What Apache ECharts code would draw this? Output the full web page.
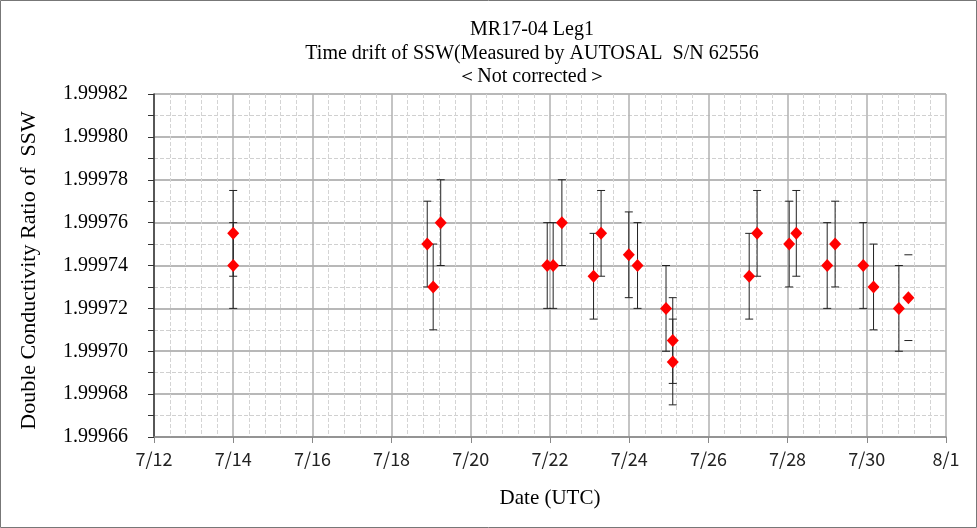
<!DOCTYPE html>
<html>
<head>
<meta charset="utf-8">
<script src="https://cdn.jsdelivr.net/npm/echarts@6/dist/echarts.min.js"></script>
<style>html,body{margin:0;padding:0;background:#fff}#c{width:977px;height:528px}</style>
</head>
<body>
<div id="c"></div>
<script>
// ---- data (day of July, UTC) ----
const days   = [14.0, 14.0, 18.9, 19.05, 19.24, 21.93, 22.08, 22.3, 23.1, 23.29, 23.99, 24.21, 24.93, 25.1, 25.1, 27.03, 27.23, 28.04, 28.22, 29.0, 29.2, 29.91, 30.17, 30.81];
const ratios = [1.999755, 1.99974, 1.99975, 1.99973, 1.99976, 1.99974, 1.99974, 1.99976, 1.999735, 1.999755, 1.999745, 1.99974, 1.99972, 1.999705, 1.999695, 1.999735, 1.999755, 1.99975, 1.999755, 1.99974, 1.99975, 1.99974, 1.99973, 1.99972];
const errors = [0.00002, 0.00002, 0.00002, 0.00002, 0.00002, 0.00002, 0.00002, 0.00002, 0.00002, 0.00002, 0.00002, 0.00002, 0.00002, 0.00002, 0.00002, 0.00002, 0.00002, 0.00002, 0.00002, 0.00002, 0.00002, 0.00002, 0.00002, 0.00002];
// point whose error bar shows only its caps
const capOnlyDays   = [31.05];
const capOnlyRatios = [1.999725];
const capOnlyErrors = [0.00002];
const referenceValue = 1.99976;
const xTickLabels = ['7/12','7/14','7/16','7/18','7/20','7/22','7/24','7/26','7/28','7/30','8/1'];
const titleLines = ['MR17-04 Leg1', 'Time drift of SSW(Measured by AUTOSAL  S/N 62556', '＜Not corrected＞'];

const serif = '"Liberation Serif", "Times New Roman", serif';

const barData = days.map((d, i) => [d, ratios[i], errors[i], 1])
  .concat(capOnlyDays.map((d, i) => [d, capOnlyRatios[i], capOnlyErrors[i], 0]));
const pointData = days.map((d, i) => [d, ratios[i]])
  .concat(capOnlyDays.map((d, i) => [d, capOnlyRatios[i]]));

const chart = echarts.init(document.getElementById('c'));
chart.setOption({
  animation: false,
  backgroundColor: '#fff',
  title: {
    text: titleLines.join('\n'),
    left: 527, top: 13, textAlign: 'center',
    textStyle: { fontFamily: serif, fontSize: 20, fontWeight: 'normal', color: '#000', lineHeight: 23.5 }
  },
  graphic: [{
    type: 'rect', shape: { x: 0.5, y: 0.5, width: 976, height: 527 },
    style: { fill: 'none', stroke: '#777', lineWidth: 1 }, silent: true, z: -10
  }],
  grid: { left: 154, right: 31, top: 94, bottom: 91, containLabel: false },
  xAxis: {
    type: 'value', min: 12, max: 32, interval: 2,
    name: 'Date (UTC)', nameLocation: 'middle', nameGap: 51,
    nameTextStyle: { fontFamily: serif, fontSize: 21, color: '#000' },
    axisLine: { show: true, onZero: false, lineStyle: { color: '#888', width: 1.5 } },
    axisTick: { show: true, length: 6, lineStyle: { color: '#888' } },
    minorTick: { show: false, splitNumber: 5 },
    axisLabel: {
      margin: 13, fontFamily: '"Noto Sans CJK JP", "DejaVu Sans", sans-serif', fontSize: 18, color: '#222',
      formatter: v => xTickLabels[Math.round((v - 12) / 2)] || ''
    },
    splitLine: { show: true, lineStyle: { color: '#b0b0b0', width: 1.5 } },
    minorSplitLine: { show: true, lineStyle: { color: '#d4d4d4', width: 1, type: 'dashed' } }
  },
  yAxis: {
    type: 'value', min: 1.99966, max: 1.99982, interval: 0.00002,
    name: 'Double Conductivity Ratio of  SSW', nameLocation: 'middle', nameGap: 114,
    nameTextStyle: { fontFamily: serif, fontSize: 22, color: '#000', padding: [0, 10, 0, 0] },
    axisLine: { show: true, lineStyle: { color: '#333', width: 1.5 } },
    axisTick: { show: true, length: 6, lineStyle: { color: '#333' } },
    minorTick: { show: true, splitNumber: 2, length: 6, lineStyle: { color: '#333' } },
    axisLabel: {
      margin: 26, fontFamily: serif, fontSize: 20, color: '#000',
      formatter: v => v.toFixed(5)
    },
    splitLine: { show: true, lineStyle: { color: '#a0a0a0', width: 1.5 } },
    minorSplitLine: { show: true, lineStyle: { color: '#d0d0d0', width: 1, type: 'dashed' } }
  },
  series: [
    {
      type: 'custom', z: 2, silent: true,
      data: barData,
      renderItem: function (params, api) {
        const x = api.value(0), y = api.value(1), e = api.value(2), stem = api.value(3);
        const top = api.coord([x, y + e]);
        const bot = api.coord([x, y - e]);
        const hw = 4;
        const st = { stroke: '#222', lineWidth: 1 };
        const children = [
          { type: 'line', shape: { x1: top[0] - hw, y1: top[1], x2: top[0] + hw, y2: top[1] }, style: st },
          { type: 'line', shape: { x1: bot[0] - hw, y1: bot[1], x2: bot[0] + hw, y2: bot[1] }, style: st }
        ];
        if (stem) children.push({ type: 'line', shape: { x1: top[0], y1: top[1], x2: bot[0], y2: bot[1] }, style: st });
        return { type: 'group', children: children };
      }
    },
    {
      type: 'scatter', z: 4, silent: true,
      data: pointData,
      symbol: 'diamond', symbolSize: [12, 13],
      itemStyle: { color: '#ff0000', opacity: 1 },
      markLine: {
        silent: true, symbol: 'none', z: 3,
        label: { show: false },
        lineStyle: { color: '#ff0000', width: 2, type: 'solid' },
        data: [{ yAxis: referenceValue }]
      }
    }
  ]
});
</script>
</body>
</html>
